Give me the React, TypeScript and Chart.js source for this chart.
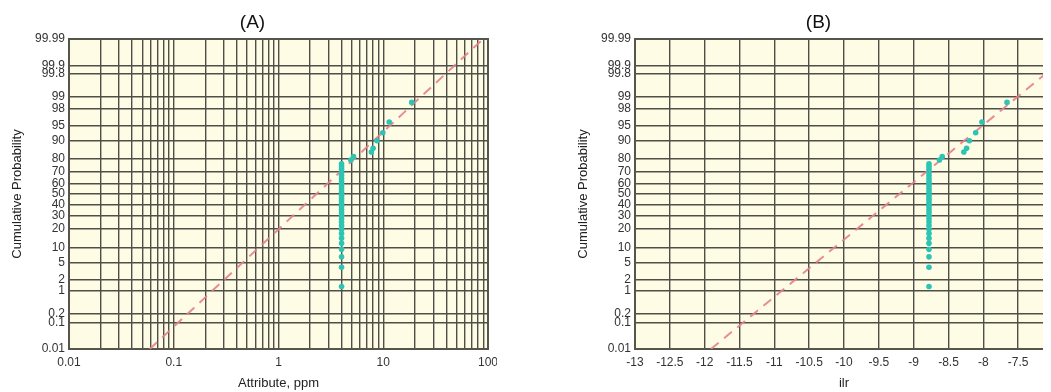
import React, { useEffect, useRef } from "react";
import { Chart, registerables } from "chart.js";

Chart.register(...registerables);

const FONT = '"Liberation Sans", Arial, Helvetica, sans-serif';
const PLOT_BG = "#FFFCE6";
const GRID = "#4f4f47";
const FRAME = "#55554c";
const POINT = "#2DC4B4";
const FIT = "rgba(228,128,140,0.9)";

// Probability axis: gridlines and their labels (percent)
const probTicks = [0.01, 0.1, 0.2, 1, 2, 5, 10, 20, 30, 40, 50, 60, 70, 80, 90, 95, 98, 99, 99.8, 99.9, 99.99];
const probTickLabels = ["0.01", "0.1", "0.2", "1", "2", "5", "10", "20", "30", "40", "50", "60", "70", "80", "90", "95", "98", "99", "99.8", "99.9", "99.99"];

// Attribute axis (log): labelled decades
const attrLabelValues = [0.01, 0.1, 1, 10, 100];
const attrLabels = ["0.01", "0.1", "1", "10", "100"];

// ilr axis
const ilrTicks = [-13, -12.5, -12, -11.5, -11, -10.5, -10, -9.5, -9, -8.5, -8, -7.5, -7];
const ilrTickLabels = ["-13", "-12.5", "-12", "-11.5", "-11", "-10.5", "-10", "-9.5", "-9", "-8.5", "-8", "-7.5", "-7"];

// Samples: cumulative probability (%), raw attribute (ppm) and ilr coordinate
const cumProb = [
  1.32, 3.95, 6.58, 9.21, 11.84, 14.47, 17.11, 19.74, 22.37, 25.0,
  27.63, 30.26, 32.89, 35.53, 38.16, 40.79, 43.42, 46.05, 48.68, 51.32,
  53.95, 56.58, 59.21, 61.84, 64.47, 67.11, 69.74, 72.37, 74.6, 76.6,
  79.3, 81.5, 84.3, 86.4, 89.9, 92.9, 95.8, 98.6,
];
const attributePpm = [
  4, 4, 4, 4, 4, 4, 4, 4, 4, 4,
  4, 4, 4, 4, 4, 4, 4, 4, 4, 4,
  4, 4, 4, 4, 4, 4, 4, 4, 4, 4,
  4.9, 5.2, 7.7, 8.0, 8.7, 9.9, 11.4, 18.7,
];
const ilrValue = [
  -8.78, -8.78, -8.78, -8.78, -8.78, -8.78, -8.78, -8.78, -8.78, -8.78,
  -8.78, -8.78, -8.78, -8.78, -8.78, -8.78, -8.78, -8.78, -8.78, -8.78,
  -8.78, -8.78, -8.78, -8.78, -8.78, -8.78, -8.78, -8.78, -8.78, -8.78,
  -8.63, -8.59, -8.28, -8.24, -8.2, -8.11, -8.02, -7.66,
];

// Fitted normal reference lines (end points at 0.01 % and 99.99 %)
const fitProb = [0.01, 99.99];
const fitAttribute = [0.059, 89.6];
const fitIlr = [-11.91, -6.5];

// Inverse of the standard normal CDF (Acklam's rational approximation)
function probToZ(p: number): number {
  const a = [-3.969683028665376e1, 2.209460984245205e2, -2.759285104469687e2, 1.38357751867269e2, -3.066479806614716e1, 2.506628277459239];
  const b = [-5.447609879822406e1, 1.615858368580409e2, -1.556989798598866e2, 6.680131188771972e1, -1.328068155288572e1];
  const c = [-7.784894002430293e-3, -3.223964580411365e-1, -2.400758277161838, -2.549732539343734, 4.374664141464968, 2.938163982698783];
  const d = [7.784695709041462e-3, 3.224671290700398e-1, 2.445134137142996, 3.754408661907416];
  const pLow = 0.02425;
  if (p < pLow) {
    const q = Math.sqrt(-2 * Math.log(p));
    return (((((c[0] * q + c[1]) * q + c[2]) * q + c[3]) * q + c[4]) * q + c[5]) / ((((d[0] * q + d[1]) * q + d[2]) * q + d[3]) * q + 1);
  }
  if (p <= 1 - pLow) {
    const q = p - 0.5;
    const r = q * q;
    return ((((((a[0] * r + a[1]) * r + a[2]) * r + a[3]) * r + a[4]) * r + a[5]) * q) / (((((b[0] * r + b[1]) * r + b[2]) * r + b[3]) * r + b[4]) * r + 1);
  }
  const q = Math.sqrt(-2 * Math.log(1 - p));
  return -(((((c[0] * q + c[1]) * q + c[2]) * q + c[3]) * q + c[4]) * q + c[5]) / ((((d[0] * q + d[1]) * q + d[2]) * q + d[3]) * q + 1);
}

const Z_MIN = probToZ(probTicks[0] / 100);
const Z_MAX = probToZ(probTicks[probTicks.length - 1] / 100);

// Log-scale gridlines: 1..9 within every decade
function logGrid(min: number, max: number): number[] {
  const out: number[] = [];
  for (let e = Math.round(Math.log10(min)); e < Math.round(Math.log10(max)); e++) {
    for (let m = 1; m <= 9; m++) out.push(parseFloat((m * Math.pow(10, e)).toPrecision(6)));
  }
  out.push(max);
  return out;
}

const CANVAS_W = 489;
const CANVAS_H = 384;

const plotFrame = {
  id: "plotFrame",
  beforeDraw(chart: any) {
    const { ctx, chartArea: a } = chart;
    ctx.save();
    ctx.fillStyle = PLOT_BG;
    ctx.fillRect(a.left, a.top, a.right - a.left, a.bottom - a.top);
    ctx.restore();
  },
  beforeDatasetsDraw(chart: any) {
    const { ctx, chartArea: a } = chart;
    ctx.save();
    ctx.strokeStyle = FRAME;
    ctx.lineWidth = 2;
    ctx.strokeRect(a.left, a.top, a.right - a.left, a.bottom - a.top);
    ctx.restore();
  },
};

type PlotProps = {
  left: number;
  title: string;
  xTitle: string;
  xType: "logarithmic" | "linear";
  xMin: number;
  xMax: number;
  xGrid: number[];
  xLabel: (v: number) => string;
  xs: number[];
  fitXs: number[];
  rightPad: number;
};

function ProbabilityPlot(props: PlotProps) {
  const ref = useRef<HTMLCanvasElement>(null);

  useEffect(() => {
    const points = props.xs.map((x, i) => ({ x, y: probToZ(cumProb[i] / 100) }));
    const fit = props.fitXs.map((x, i) => ({ x, y: probToZ(fitProb[i] / 100) }));
    const tickFont = { family: FONT, size: 12 };
    const titleFont = { family: FONT, size: 13 };

    const chart = new Chart(ref.current as HTMLCanvasElement, {
      type: "scatter",
      data: {
        datasets: [
          {
            data: points,
            pointRadius: 2.8,
            pointHoverRadius: 2.8,
            backgroundColor: POINT,
            borderWidth: 0,
          },
          {
            data: fit,
            showLine: true,
            pointRadius: 0,
            borderColor: FIT,
            borderWidth: 2,
            borderDash: [10, 7],
            fill: false,
          },
        ],
      },
      options: {
        responsive: false,
        animation: false,
        devicePixelRatio: 1,
        layout: { padding: 0 },
        plugins: {
          legend: { display: false },
          tooltip: { enabled: false },
          title: {
            display: true,
            text: props.title,
            color: "#111",
            font: { family: FONT, size: 19, weight: "normal" },
            padding: { top: 3.6, bottom: 4.6 },
          },
        },
        scales: {
          x: {
            type: props.xType,
            min: props.xMin,
            max: props.xMax,
            afterBuildTicks: (s: any) => {
              s.ticks = props.xGrid.map((v) => ({ value: v }));
            },
            afterFit: (s: any) => {
              s.height = 43;
              s.paddingLeft = 0;
              s.paddingRight = props.rightPad;
            },
            ticks: {
              autoSkip: false,
              maxRotation: 0,
              minRotation: 0,
              padding: 6,
              color: "#333",
              font: tickFont,
              callback: (v: any) => props.xLabel(Number(v)),
            },
            grid: { color: GRID, lineWidth: 1.4, drawTicks: false },
            border: { display: false },
            title: {
              display: true,
              text: props.xTitle,
              color: "#222",
              font: titleFont,
              padding: { top: 0, bottom: 1.2 },
            },
          },
          y: {
            type: "linear",
            min: Z_MIN,
            max: Z_MAX,
            afterBuildTicks: (s: any) => {
              s.ticks = probTicks.map((p) => ({ value: probToZ(p / 100) }));
            },
            afterFit: (s: any) => {
              s.width = 61;
              s.paddingTop = 0;
              s.paddingBottom = 0;
            },
            ticks: {
              autoSkip: false,
              padding: 4,
              color: "#333",
              font: tickFont,
              callback: (_v: any, i: number) => probTickLabels[i],
            },
            grid: { color: GRID, lineWidth: 1.4, drawTicks: false },
            border: { display: false },
            title: {
              display: true,
              text: "Cumulative Probability",
              color: "#222",
              font: titleFont,
              padding: { top: 1.7, bottom: 0 },
            },
          },
        },
      } as any,
      plugins: [plotFrame],
    });
    return () => chart.destroy();
  }, []);

  return (
    <canvas
      ref={ref}
      width={CANVAS_W}
      height={CANVAS_H}
      style={{ position: "absolute", left: props.left, top: 0, width: CANVAS_W, height: CANVAS_H }}
    />
  );
}

const attrLabel = (v: number) => {
  const i = attrLabelValues.findIndex((lv) => Math.abs(Math.log10(lv) - Math.log10(v)) < 1e-6);
  return i >= 0 ? attrLabels[i] : "";
};

const ilrLabel = (v: number) => {
  const i = ilrTicks.findIndex((t) => Math.abs(t - v) < 1e-6);
  return i >= 0 ? ilrTickLabels[i] : "";
};

export default function App() {
  useEffect(() => {
    document.documentElement.style.overflow = "hidden";
    document.body.style.overflow = "hidden";
  }, []);

  return (
    <div style={{ position: "relative", width: 1080, height: CANVAS_H }}>
      <ProbabilityPlot
        left={0}
        title="(A)"
        xTitle="Attribute, ppm"
        xType="logarithmic"
        xMin={0.01}
        xMax={100}
        xGrid={logGrid(0.01, 100)}
        xLabel={attrLabel}
        xs={attributePpm}
        fitXs={fitAttribute}
        rightPad={9}
      />
      <ProbabilityPlot
        left={566}
        title="(B)"
        xTitle="ilr"
        xType="linear"
        xMin={-13}
        xMax={-7}
        xGrid={ilrTicks}
        xLabel={ilrLabel}
        xs={ilrValue}
        fitXs={fitIlr}
        rightPad={10}
      />
    </div>
  );
}
